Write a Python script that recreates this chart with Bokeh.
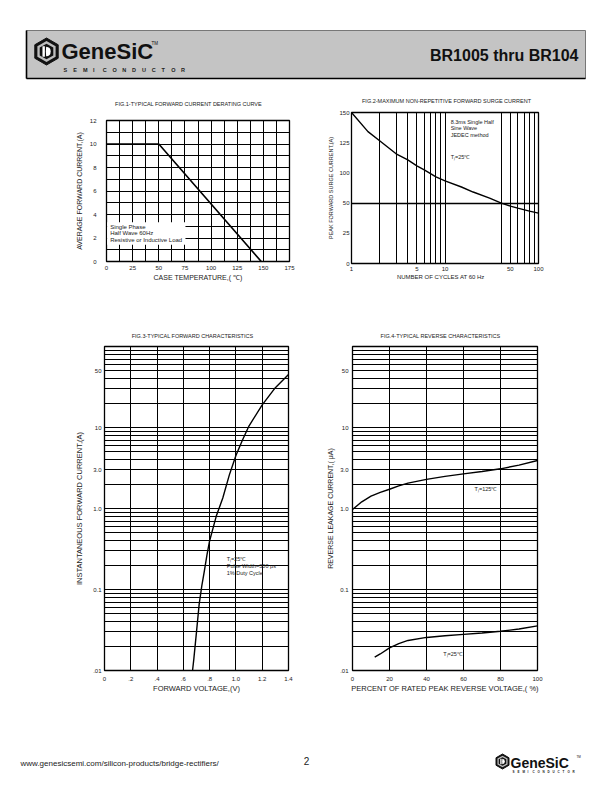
import math
from bokeh.plotting import figure
from bokeh.layouts import column, row
from bokeh.models import Range1d, FixedTicker
from bokeh.core.properties import value
from bokeh.embed import file_html
from bokeh.resources import INLINE

FONT = "Liberation Sans"
INK = "#1a1a1a"

# ---------------- data ----------------
# Fig.1 derating curve
fig1_title = "FIG.1-TYPICAL FORWARD CURRENT DERATING CURVE"
fig1_temp = [0, 50, 148]
fig1_current = [10, 10, 0]
fig1_xticks = [0, 25, 50, 75, 100, 125, 150, 175]
fig1_xlabels = ["0", "25", "50", "75", "100", "125", "150", "175"]
fig1_yticks = [0, 2, 4, 6, 8, 10, 12]
fig1_ylabels = ["0", "2", "4", "6", "8", "10", "12"]
fig1_xgrid = [12.5, 25, 37.5, 50, 62.5, 75, 87.5, 100, 112.5, 125, 137.5, 150, 162.5]
fig1_ygrid = [1, 2, 3, 4, 5, 6, 7, 8, 9, 10, 11]
fig1_notes = ["Single Phase", "Half Wave 60Hz", "Resistive or Inductive Load"]

# Fig.2 surge current (values in the chart's printed-axis positions)
fig2_title = "FIG.2-MAXIMUM NON-REPETITIVE FORWARD SURGE CURRENT"
fig2_cycles = [1, 1.5, 2, 3, 4, 5, 6, 8, 10, 15, 20, 30, 40, 50, 60, 80, 100]
fig2_surge = [150, 131, 122, 109, 103, 97, 93, 86, 82, 76, 71, 65, 60, 57, 55, 52, 50]
fig2_xticks = [1, 5, 10, 50, 100]
fig2_xlabels = ["1", "5", "10", "50", "100"]
fig2_yticks = [0, 30, 60, 90, 120, 150]
fig2_ylabels = ["0", "25", "50", "100", "125", "150"]
fig2_xgrid = [2, 3, 4, 5, 6, 7, 8, 9, 10, 40, 50, 60, 70, 80, 90]
fig2_ygrid = [60]
fig2_notes = ["8.3ms Single Half", "Sine Wave", "JEDEC method"]

# Fig.3 forward characteristics
fig3_title = "FIG.3-TYPICAL FORWARD CHARACTERISTICS"
fig3_vf = [0.67, 0.68, 0.70, 0.72, 0.74, 0.76, 0.78, 0.80, 0.85, 0.90, 0.95, 1.00,
           1.05, 1.10, 1.20, 1.30, 1.40]
fig3_if = [0.010, 0.014, 0.030, 0.065, 0.11, 0.17, 0.27, 0.40, 0.80, 1.35, 2.6, 4.5,
           7.0, 10.5, 19.0, 31.0, 45.0]
fig3_xticks = [0, 0.2, 0.4, 0.6, 0.8, 1.0, 1.2, 1.4]
fig3_xlabels = ["0", ".2", ".4", ".6", ".8", "1.0", "1.2", "1.4"]
log_yticks = [0.01, 0.1, 1, 3, 10, 50]
log_ylabels = [".01", "0.1", "1.0", "3.0", "10", "50"]
log_ygrid = [0.02, 0.03, 0.04, 0.05, 0.06, 0.07, 0.08, 0.09, 0.1,
             0.2, 0.3, 0.4, 0.5, 0.6, 0.7, 0.8, 0.9, 1,
             2, 3, 4, 5, 6, 7, 8, 9, 10,
             20, 30, 40, 50, 60, 70, 80, 90]
fig3_notes = ["T\u2c7c=25\u2103", "Pulse Width=300 \u03bcs", "1% Duty Cycle"]

# Fig.4 reverse characteristics
fig4_title = "FIG.4-TYPICAL REVERSE CHARACTERISTICS"
fig4_pct_hot = [0, 5, 10, 15, 20, 25, 30, 40, 50, 60, 70, 80, 90, 100]
fig4_ir_hot = [0.97, 1.21, 1.42, 1.58, 1.73, 1.90, 2.06, 2.29, 2.49, 2.68, 2.86, 3.09, 3.43, 3.91]
fig4_pct_cold = [12, 15, 20, 25, 30, 40, 50, 60, 70, 80, 90, 100]
fig4_ir_cold = [0.0146, 0.0160, 0.0190, 0.0215, 0.0235, 0.0256, 0.0268, 0.0279,
                0.0290, 0.0305, 0.0325, 0.0356]
fig4_xticks = [0, 20, 40, 60, 80, 100]
fig4_xlabels = ["0", "20", "40", "60", "80", "100"]


# ---------------- helpers ----------------
def chart(xr, yr, xtype, ytype, borders, height):
    bl, br, bt, bb = borders
    p = figure(width=306, height=height, x_range=xr, y_range=yr,
               x_axis_type=xtype, y_axis_type=ytype,
               output_backend="svg", toolbar_location=None,
               min_border_left=bl, min_border_right=br,
               min_border_top=bt, min_border_bottom=bb, frame_align=False)
    p.background_fill_color = "white"
    p.border_fill_color = "white"
    p.outline_line_color = "black"
    p.outline_line_width = 1.3
    return p


def style_axis(ax, ticks, labels, text, tick_size, label_size, tick_standoff, label_standoff):
    ax.ticker = FixedTicker(ticks=ticks)
    ax.major_label_overrides = {t: l for t, l in zip(ticks, labels)}
    ax.axis_label = text
    ax.axis_label_text_font = FONT
    ax.axis_label_text_font_size = label_size
    ax.axis_label_text_font_style = "normal"
    ax.axis_label_text_color = INK
    ax.axis_label_standoff = label_standoff
    ax.major_label_text_font = FONT
    ax.major_label_text_font_size = tick_size
    ax.major_label_text_color = INK
    ax.major_label_standoff = tick_standoff
    ax.major_tick_line_color = None
    ax.minor_tick_line_color = None
    ax.major_tick_out = 0
    ax.major_tick_in = 0
    ax.minor_tick_out = 0
    ax.minor_tick_in = 0
    ax.axis_line_color = None


def style_grid(g, ticks, width=1.0, color="black"):
    g.ticker = FixedTicker(ticks=ticks)
    g.grid_line_color = color
    g.grid_line_width = width
    g.grid_line_alpha = 1.0


def notes(p, xs, ys, texts, size="5.5px", align="left"):
    p.text(x=xs, y=ys, text=texts, text_font=value(FONT), text_font_size=size,
           text_color=INK, text_align=align, text_baseline="middle")


# ---------------- Fig.1 ----------------
f1 = chart(Range1d(0, 175), Range1d(0, 12), "linear", "linear", (106, 17, 14, 49), 204)
style_axis(f1.xaxis[0], fig1_xticks, fig1_xlabels, "CASE TEMPERATURE,( \u2103)", "6px", "7px", 4, 1)
style_axis(f1.yaxis[0], fig1_yticks, fig1_ylabels, "AVERAGE FORWARD CURRENT,(A)", "6px", "7px", 10, 4)
style_grid(f1.xgrid[0], fig1_xgrid)
style_grid(f1.ygrid[0], fig1_ygrid)
f1.quad(left=[0.6], right=[75.5], bottom=[1.42], top=[3.33], fill_color="white", line_color=None)
notes(f1, [3.5, 3.5, 3.5], [2.96, 2.42, 1.8], fig1_notes, size="6px")
f1.line(fig1_temp, fig1_current, line_color="black", line_width=1.6)

# ---------------- Fig.2 ----------------
f2 = chart(Range1d(1, 100), Range1d(0, 150), "log", "linear", (45, 74, 6, 47), 204)
style_axis(f2.xaxis[0], fig2_xticks, fig2_xlabels, "NUMBER  OF  CYCLES  AT  60  Hz", "6px", "6px", 3, 0)
style_axis(f2.yaxis[0], fig2_yticks, fig2_ylabels, "PEAK FORWARD SURGE CURRENT,(A)", "6px", "5.5px", 2, 2)
style_grid(f2.xgrid[0], fig2_xgrid)
style_grid(f2.ygrid[0], fig2_ygrid, width=1.4)
notes(f2, [11.5, 11.5, 11.5], [141, 134.5, 128], fig2_notes)
notes(f2, [11.5], [105.5], ["T\u2c7c=25\u2103"])
f2.line(fig2_cycles, fig2_surge, line_color="black", line_width=1.4)

# ---------------- Fig.3 ----------------
f3 = chart(Range1d(0, 1.4), Range1d(0.01, 100), "linear", "log", (104, 18, 6, 30), 360)
style_axis(f3.xaxis[0], fig3_xticks, fig3_xlabels, "FORWARD VOLTAGE,(V)", "6px", "7.5px", 6, 0)
style_axis(f3.yaxis[0], log_yticks, log_ylabels, "INSTANTANEOUS FORWARD CURRENT,(A)", "6px", "7.5px", 3, 6)
style_grid(f3.xgrid[0], fig3_xticks[1:-1])
style_grid(f3.ygrid[0], log_ygrid)
notes(f3, [0.93, 0.93, 0.93], [0.24, 0.194, 0.158], fig3_notes)
f3.line(fig3_vf, fig3_if, line_color="black", line_width=1.4)

# ---------------- Fig.4 ----------------
f4 = chart(Range1d(0, 100), Range1d(0.01, 100), "linear", "log", (46, 75, 6, 30), 360)
style_axis(f4.xaxis[0], fig4_xticks, fig4_xlabels, "PERCENT OF RATED PEAK REVERSE VOLTAGE,( %)", "6px", "7.5px", 6, 0)
style_axis(f4.yaxis[0], log_yticks, log_ylabels, "REVERSE LEAKAGE CURRENT,( \u03bcA)", "6px", "7px", 4, 3)
style_grid(f4.xgrid[0], fig4_xticks[1:-1])
style_grid(f4.ygrid[0], log_ygrid)
notes(f4, [66], [1.72], ["T\u2c7c=125\u2103"])
notes(f4, [49], [0.0162], ["T\u2c7c=25\u2103"])
f4.line(fig4_pct_hot, fig4_ir_hot, line_color="black", line_width=1.4)
f4.line(fig4_pct_cold, fig4_ir_cold, line_color="black", line_width=1.4)


# ---------------- page bands (header, chart titles, footer) ----------------
def band(y0, y1):
    p = figure(width=612, height=y1 - y0, x_range=Range1d(0, 612), y_range=Range1d(y1, y0),
               output_backend="svg", toolbar_location=None, min_border=0, frame_align=False)
    p.axis.visible = False
    p.grid.visible = False
    p.outline_line_color = None
    p.background_fill_color = "white"
    p.border_fill_color = "white"
    return p


def band_text(p, x, y, text, size, bold=False, align="left", color="#111111"):
    p.text(x=[x], y=[y], text=[text], text_font=value(FONT), text_font_size=size,
           text_font_style="bold" if bold else "normal", text_color=color,
           text_align=align, text_baseline="middle")


def hexagon(cx, cy, r):
    xs = [cx + r * math.cos(math.radians(90 + 60 * k)) for k in range(6)]
    ys = [cy + r * math.sin(math.radians(90 + 60 * k)) for k in range(6)]
    return xs, ys


def logo(p, cx, cy, r, text_x, text_y, size, sub_y, sub_size, sub_step):
    xs, ys = hexagon(cx, cy, r)
    p.patch(xs, ys, fill_color="#111111", line_color="#111111")
    xs, ys = hexagon(cx, cy, r * 0.78)
    p.patch(xs, ys, fill_color="#bdbdbd", line_color=None)
    xs, ys = hexagon(cx, cy, r * 0.58)
    p.patch(xs, ys, fill_color="#111111", line_color=None)
    p.quad(left=[cx - r * 0.30], right=[cx - r * 0.12], top=[cy - r * 0.38], bottom=[cy + r * 0.38],
           fill_color="white", line_color=None)
    p.wedge(x=[cx - r * 0.05], y=[cy], radius=r * 0.36, start_angle=-1.5, end_angle=1.5,
            fill_color="white", line_color=None)
    band_text(p, text_x, text_y, "GeneSiC", size, bold=True)
    letters = list("SEMICONDUCTOR")
    p.text(x=[text_x + 2 + i * sub_step for i in range(len(letters))], y=[sub_y] * len(letters),
           text=letters, text_font=value(FONT), text_font_size=sub_size, text_font_style="bold",
           text_color="#222222", text_baseline="middle", text_align="left")


header = band(0, 106)
header.quad(left=[26], right=[585], top=[30], bottom=[78], fill_color="#c4c4c4",
            line_color="#777777", line_width=1)
header.segment(x0=[26, 26], y0=[30, 78], x1=[26, 585], y1=[78, 78], line_color="black", line_width=1.6)
logo(header, 46, 51, 13.5, 61, 51, "22px", 69, "5.5px", 9.8)
band_text(header, 151, 43, "TM", "4.5px")
band_text(header, 578, 55, "BR1005 thru BR104", "16px", bold=True, align="right")
band_text(header, 188, 103, fig1_title, "5.5px", align="center", color=INK)
band_text(header, 446, 100, fig2_title, "5.5px", align="center", color=INK)

mid = band(310, 340)
band_text(mid, 192, 335, fig3_title, "5.5px", align="center", color=INK)
band_text(mid, 440, 335, fig4_title, "5.5px", align="center", color=INK)

footer = band(700, 792)
band_text(footer, 20, 763, "www.genesicsemi.com/silicon-products/bridge-rectifiers/", "8px", color="#222222")
band_text(footer, 306, 760, "2", "10px", align="center", color="#222222")
logo(footer, 502, 761, 7.5, 510, 762, "14px", 771, "3px", 5)
band_text(footer, 576, 756, "TM", "3px")

page = column(header, row(f1, f2), mid, row(f3, f4), footer)
open("out.html", "w").write(file_html(page, INLINE))
